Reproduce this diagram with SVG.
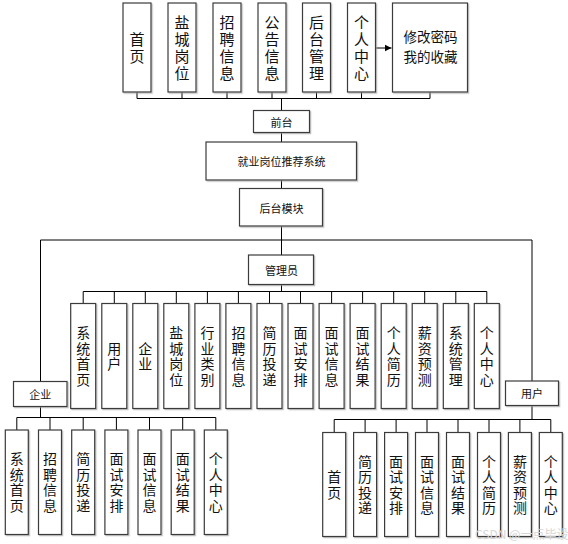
<svg xmlns="http://www.w3.org/2000/svg" width="568" height="544" viewBox="0 0 568 544">
<style>
.b{fill:#fff;stroke:#3a3a3a;stroke-width:1.2;filter:url(#sh)}
.c{fill:none;stroke:#000;stroke-width:1}
text{font-family:"Noto Sans CJK SC","Noto Sans",sans-serif;fill:#111;text-anchor:middle;dominant-baseline:central}
.v{writing-mode:vertical-rl;text-orientation:upright}
.t{font-size:13.5px}
.tv{font-size:15px;letter-spacing:2px}
.m{font-size:14px;letter-spacing:1.5px}
.s{font-size:11px}
.w{font-size:12px;fill:#d6d6d6;text-anchor:start}
</style>
<defs>
<filter id="sh" x="-20%" y="-20%" width="140%" height="140%">
<feDropShadow dx="1.2" dy="1.2" stdDeviation="0.6" flood-color="#9a9a9a" flood-opacity="0.6"/>
</filter>
<marker id="ar" markerWidth="8" markerHeight="8" refX="7" refY="4" orient="auto" markerUnits="userSpaceOnUse">
<path d="M0,0.5 L7,4 L0,7.5 Z" fill="#000"/>
</marker>
</defs>
<rect width="568" height="544" fill="#fff"/>

<g id="connectors">
<path class="c" d="M137,92V98.5M182,92V98.5M227,92V98.5M272,92V98.5M316.5,92V98.5M361.5,92V98.5M430,92V98.5M137,98.5H430M281.5,98.5V110.5"/>
<path class="c" d="M375,48H391.5" marker-end="url(#ar)"/>
<path class="c" d="M281.5,132.5V142M281.5,180V188.5M281.5,226V255M40.5,240H532M40.5,240V381.5M532,240V381"/>
<path class="c" d="M281.5,284.5V291.5M83.2,291.5H486.8M83.2,291.5V303.5M114.3,291.5V303.5M145.3,291.5V303.5M176.3,291.5V303.5M207.4,291.5V303.5M238.4,291.5V303.5M269.5,291.5V303.5M300.5,291.5V303.5M331.6,291.5V303.5M362.6,291.5V303.5M393.7,291.5V303.5M424.7,291.5V303.5M455.8,291.5V303.5M486.8,291.5V303.5"/>
<path class="c" d="M40.5,406.5V417.5M16.8,417.5H215.8M16.8,417.5V430M50,417.5V430M83.2,417.5V430M116.4,417.5V430M149.5,417.5V430M182.7,417.5V430M215.8,417.5V430"/>
<path class="c" d="M532,405.5V419.5M334.2,419.5H550.8M334.2,419.5V432.5M365.1,419.5V432.5M396.1,419.5V432.5M427,419.5V432.5M458,419.5V432.5M489,419.5V432.5M519.9,419.5V432.5M550.8,419.5V432.5"/>
</g>

<g id="top-shouye"><rect class="b" x="123" y="3" width="28" height="89"/><text class="v tv" x="137" y="48.5">首页</text></g>
<g id="top-gangwei"><rect class="b" x="168" y="3" width="28" height="89"/><text class="v tv" x="182" y="48.5">盐城岗位</text></g>
<g id="top-zhaopin"><rect class="b" x="213" y="3" width="28" height="89"/><text class="v tv" x="227" y="48.5">招聘信息</text></g>
<g id="top-gonggao"><rect class="b" x="258" y="3" width="28" height="89"/><text class="v tv" x="272" y="48.5">公告信息</text></g>
<g id="top-houtai"><rect class="b" x="302.5" y="3" width="28" height="89"/><text class="v tv" x="316.5" y="48.5">后台管理</text></g>
<g id="top-geren"><rect class="b" x="347.5" y="3" width="28" height="89"/><text class="v tv" x="361.5" y="48.5">个人中心</text></g>
<g id="top-xiugai"><rect class="b" x="392.5" y="3" width="75" height="89"/><text class="t"><tspan x="430.5" y="36">修改密码</tspan><tspan x="430.5" y="55.8">我的收藏</tspan></text></g>

<g id="qiantai"><rect class="b" x="253.5" y="110.5" width="56" height="22"/><text class="s" x="281.5" y="121.5">前台</text></g>
<g id="xitong"><rect class="b" x="206" y="142" width="150.5" height="38"/><text class="s" x="281.5" y="161">就业岗位推荐系统</text></g>
<g id="houtaimokuai"><rect class="b" x="239.5" y="188.5" width="83" height="37.5"/><text class="s" x="281.5" y="207.5">后台模块</text></g>
<g id="guanliyuan"><rect class="b" x="248.5" y="255" width="65" height="29.5"/><text class="s" x="281.5" y="270">管理员</text></g>

<g id="a1"><rect class="b" x="70.7" y="303.5" width="25" height="105"/><text class="v m" x="83.2" y="356.75">系统首页</text></g>
<g id="a2"><rect class="b" x="101.8" y="303.5" width="25" height="105"/><text class="v m" x="114.3" y="356.75">用户</text></g>
<g id="a3"><rect class="b" x="132.8" y="303.5" width="25" height="105"/><text class="v m" x="145.3" y="356.75">企业</text></g>
<g id="a4"><rect class="b" x="163.8" y="303.5" width="25" height="105"/><text class="v m" x="176.3" y="356.75">盐城岗位</text></g>
<g id="a5"><rect class="b" x="194.9" y="303.5" width="25" height="105"/><text class="v m" x="207.4" y="356.75">行业类别</text></g>
<g id="a6"><rect class="b" x="225.9" y="303.5" width="25" height="105"/><text class="v m" x="238.4" y="356.75">招聘信息</text></g>
<g id="a7"><rect class="b" x="257" y="303.5" width="25" height="105"/><text class="v m" x="269.5" y="356.75">简历投递</text></g>
<g id="a8"><rect class="b" x="288" y="303.5" width="25" height="105"/><text class="v m" x="300.5" y="356.75">面试安排</text></g>
<g id="a9"><rect class="b" x="319.1" y="303.5" width="25" height="105"/><text class="v m" x="331.6" y="356.75">面试信息</text></g>
<g id="a10"><rect class="b" x="350.1" y="303.5" width="25" height="105"/><text class="v m" x="362.6" y="356.75">面试结果</text></g>
<g id="a11"><rect class="b" x="381.2" y="303.5" width="25" height="105"/><text class="v m" x="393.7" y="356.75">个人简历</text></g>
<g id="a12"><rect class="b" x="412.2" y="303.5" width="25" height="105"/><text class="v m" x="424.7" y="356.75">薪资预测</text></g>
<g id="a13"><rect class="b" x="443.3" y="303.5" width="25" height="105"/><text class="v m" x="455.8" y="356.75">系统管理</text></g>
<g id="a14"><rect class="b" x="474.3" y="303.5" width="25" height="105"/><text class="v m" x="486.8" y="356.75">个人中心</text></g>

<g id="qiye"><rect class="b" x="13.5" y="381.5" width="53.5" height="25"/><text class="s" x="40.3" y="394">企业</text></g>
<g id="yonghu"><rect class="b" x="505.5" y="381" width="53" height="24.5"/><text class="s" x="532" y="393.2">用户</text></g>

<g id="e1"><rect class="b" x="5.3" y="430" width="23" height="104.5"/><text class="v m" x="16.8" y="483">系统首页</text></g>
<g id="e2"><rect class="b" x="38.5" y="430" width="23" height="104.5"/><text class="v m" x="50" y="483">招聘信息</text></g>
<g id="e3"><rect class="b" x="71.7" y="430" width="23" height="104.5"/><text class="v m" x="83.2" y="483">简历投递</text></g>
<g id="e4"><rect class="b" x="104.9" y="430" width="23" height="104.5"/><text class="v m" x="116.4" y="483">面试安排</text></g>
<g id="e5"><rect class="b" x="138" y="430" width="23" height="104.5"/><text class="v m" x="149.5" y="483">面试信息</text></g>
<g id="e6"><rect class="b" x="171.2" y="430" width="23" height="104.5"/><text class="v m" x="182.7" y="483">面试结果</text></g>
<g id="e7"><rect class="b" x="204.3" y="430" width="23" height="104.5"/><text class="v m" x="215.8" y="483">个人中心</text></g>

<g id="u1"><rect class="b" x="322.7" y="432.5" width="23" height="104"/><text class="v m" x="334.2" y="485.25">首页</text></g>
<g id="u2"><rect class="b" x="353.6" y="432.5" width="23" height="104"/><text class="v m" x="365.1" y="485.25">简历投递</text></g>
<g id="u3"><rect class="b" x="384.6" y="432.5" width="23" height="104"/><text class="v m" x="396.1" y="485.25">面试安排</text></g>
<g id="u4"><rect class="b" x="415.5" y="432.5" width="23" height="104"/><text class="v m" x="427" y="485.25">面试信息</text></g>
<g id="u5"><rect class="b" x="446.5" y="432.5" width="23" height="104"/><text class="v m" x="458" y="485.25">面试结果</text></g>
<g id="u6"><rect class="b" x="477.5" y="432.5" width="23" height="104"/><text class="v m" x="489" y="485.25">个人简历</text></g>
<g id="u7"><rect class="b" x="508.4" y="432.5" width="23" height="104"/><text class="v m" x="519.9" y="485.25">薪资预测</text></g>
<g id="u8"><rect class="b" x="539.3" y="432.5" width="23" height="104"/><text class="v m" x="550.8" y="485.25">个人中心</text></g>

<text class="w" x="475" y="533">CSDN @一点毕设</text>
</svg>
